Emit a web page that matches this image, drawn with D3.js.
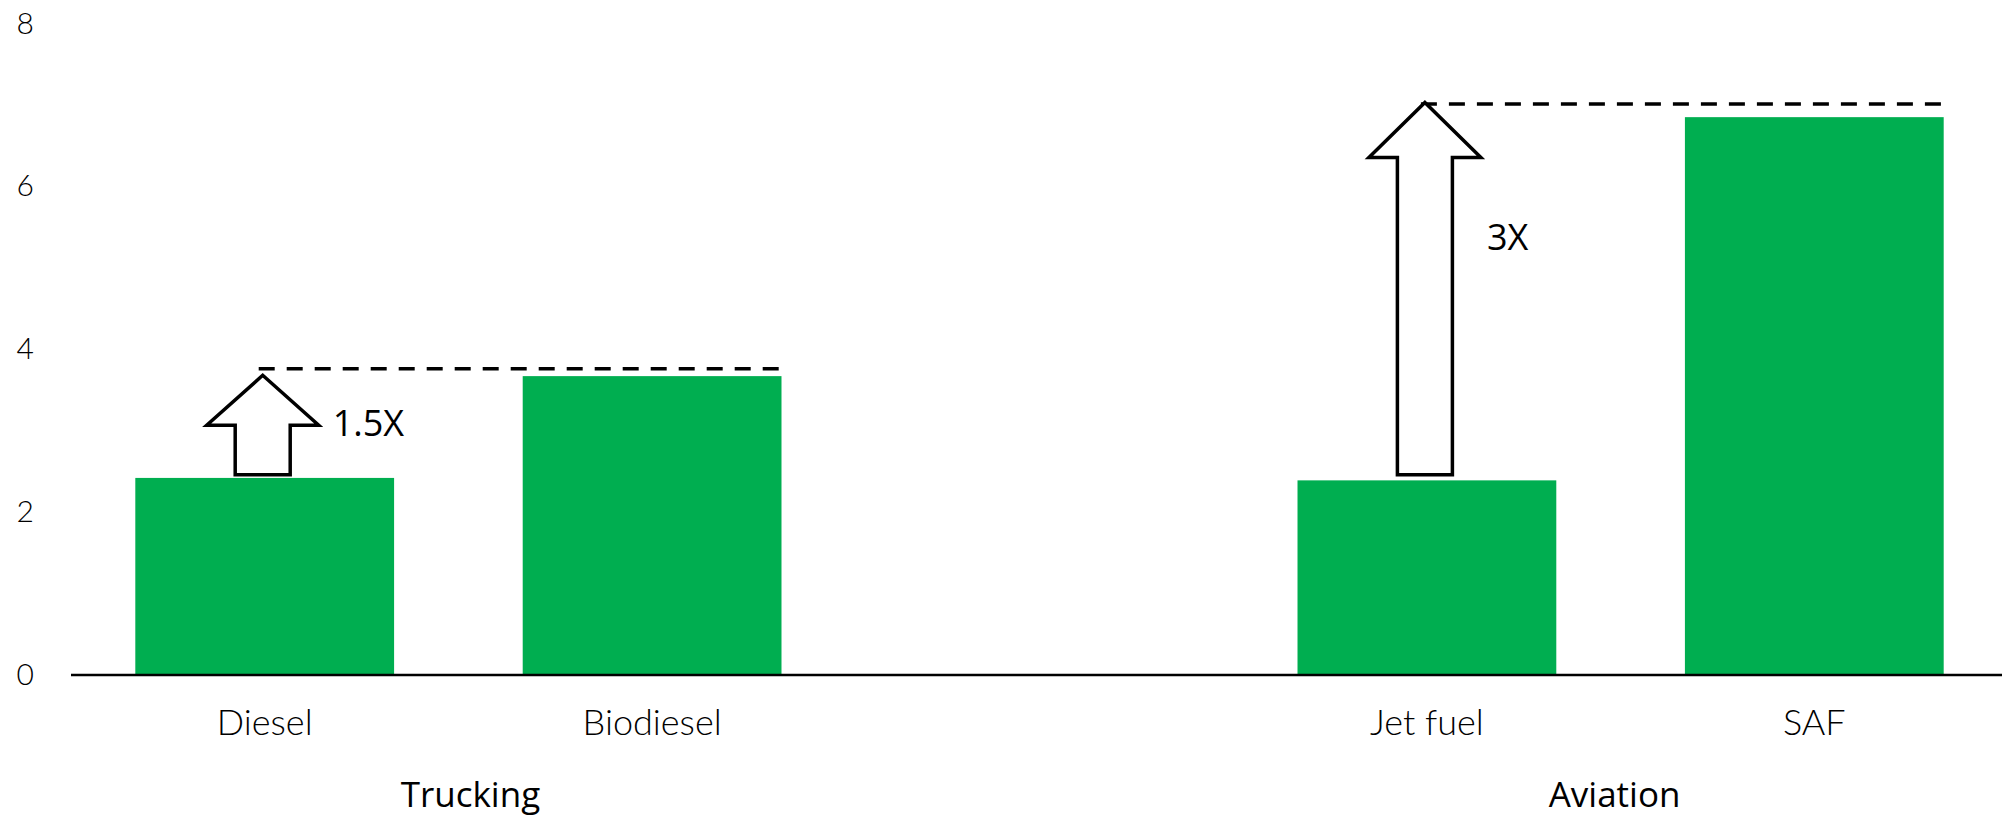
<!DOCTYPE html>
<html>
<head>
<meta charset="utf-8">
<script src="https://cdn.jsdelivr.net/npm/d3@7"></script>
<style>
  html, body { margin: 0; padding: 0; background: #ffffff; }
  svg { display: block; }
</style>
</head>
<body>
<svg id="chart" width="2002" height="819"></svg>
<script>
// Fuel categories, in plotting order, with an empty slot between the two sectors
const categories = ["Diesel", "Biodiesel", "Jet fuel", "SAF"];
const slots = ["Diesel", "Biodiesel", "_spacer", "Jet fuel", "SAF"];
const values = [2.42, 3.67, 2.39, 6.85];

// Sector labels and the fuels each one covers
const groups = ["Trucking", "Aviation"];
const groupMembers = [["Diesel", "Biodiesel"], ["Jet fuel", "SAF"]];

// Y axis ticks
const yTicks = [0, 2, 4, 6, 8];

// Multiplier arrows: start fuel, target fuel, arrow base/tip values, dashed level, label
const arrowFrom = ["Diesel", "Jet fuel"];
const arrowTo = ["Biodiesel", "SAF"];
const arrowBase = [2.46, 2.46];
const arrowTip = [3.68, 7.03];
const dashLevel = [3.76, 7.01];
const arrowLabels = ["1.5X", "3X"];

const svg = d3.select("#chart");
const W = 2002, H = 819;

const x = d3.scaleBand()
  .domain(slots)
  .range([71, 2008])
  .paddingInner(0.332)
  .paddingOuter(0.166);

const y = d3.scaleLinear()
  .domain([0, 8])
  .range([675, 23.5]);

const data = categories.map((c, i) => ({ cat: c, value: values[i] }));

// Bars
svg.append("g")
  .selectAll("rect")
  .data(data)
  .join("rect")
  .attr("x", d => x(d.cat))
  .attr("y", d => y(d.value))
  .attr("width", x.bandwidth())
  .attr("height", d => y(0) - y(d.value))
  .attr("fill", "#00AE50");

// Y axis: labels only
const yAxis = svg.append("g")
  .attr("transform", `translate(${x.range()[0]},0)`)
  .call(d3.axisLeft(y).tickValues(yTicks).tickSize(0).tickPadding(37).tickFormat(d3.format("d")));
yAxis.select(".domain").remove();
yAxis.selectAll("text")
  .attr("font-family", "Lato, 'Open Sans', sans-serif")
  .attr("font-weight", 300)
  .attr("font-size", 30)
  .attr("fill", "#000");

// X axis: baseline plus fuel names
const xAxis = svg.append("g")
  .attr("transform", `translate(0,${y(0)})`)
  .call(d3.axisBottom(x).tickValues(categories).tickSize(0).tickPadding(0));
xAxis.select(".domain")
  .attr("stroke", "#000")
  .attr("stroke-width", 2.5)
  .attr("d", `M${x.range()[0]},0H${W}`);
xAxis.selectAll("text")
  .attr("y", 60)
  .attr("dy", 0)
  .attr("font-family", "Lato, 'Open Sans', sans-serif")
  .attr("font-weight", 300)
  .attr("font-size", 36)
  .attr("fill", "#000");

// Sector labels under their fuels
const groupDx = [12, -6];
svg.append("g")
  .selectAll("text")
  .data(groups)
  .join("text")
  .attr("x", (g, i) => d3.mean(groupMembers[i], c => x(c) + x.bandwidth() / 2) + groupDx[i])
  .attr("y", 807)
  .attr("text-anchor", "middle")
  .attr("font-family", "'Open Sans', sans-serif")
  .attr("font-size", 35)
  .attr("fill", "#000")
  .text(g => g);

// Dashed reference levels and block arrows
const shaftHalf = 27.5, headHalf = 56;
const headLen = [50, 55];
const labelDx = [70, 62];
const labelY = [436, 250];
const ann = svg.append("g");

arrowFrom.forEach((c, i) => {
  const cx = x(c) + x.bandwidth() / 2 - 2;
  const yb = y(arrowBase[i]);
  const yt = y(arrowTip[i]);
  const yh = yt + headLen[i];

  ann.append("line")
    .attr("x1", cx - 4)
    .attr("x2", x(arrowTo[i]) + x.bandwidth() - 2)
    .attr("y1", y(dashLevel[i]))
    .attr("y2", y(dashLevel[i]))
    .attr("stroke", "#000")
    .attr("stroke-width", 3.5)
    .attr("stroke-dasharray", "16 12");

  const p = d3.path();
  p.moveTo(cx - shaftHalf, yb);
  p.lineTo(cx - shaftHalf, yh);
  p.lineTo(cx - headHalf, yh);
  p.lineTo(cx, yt);
  p.lineTo(cx + headHalf, yh);
  p.lineTo(cx + shaftHalf, yh);
  p.lineTo(cx + shaftHalf, yb);
  p.closePath();

  ann.append("path")
    .attr("d", p.toString())
    .attr("fill", "#fff")
    .attr("stroke", "#000")
    .attr("stroke-width", 3.5)
    .attr("stroke-linejoin", "miter");

  ann.append("text")
    .attr("x", cx + labelDx[i])
    .attr("y", labelY[i])
    .attr("font-family", "'Open Sans', sans-serif")
    .attr("font-size", 36)
    .attr("fill", "#000")
    .text(arrowLabels[i]);
});
</script>
</body>
</html>
